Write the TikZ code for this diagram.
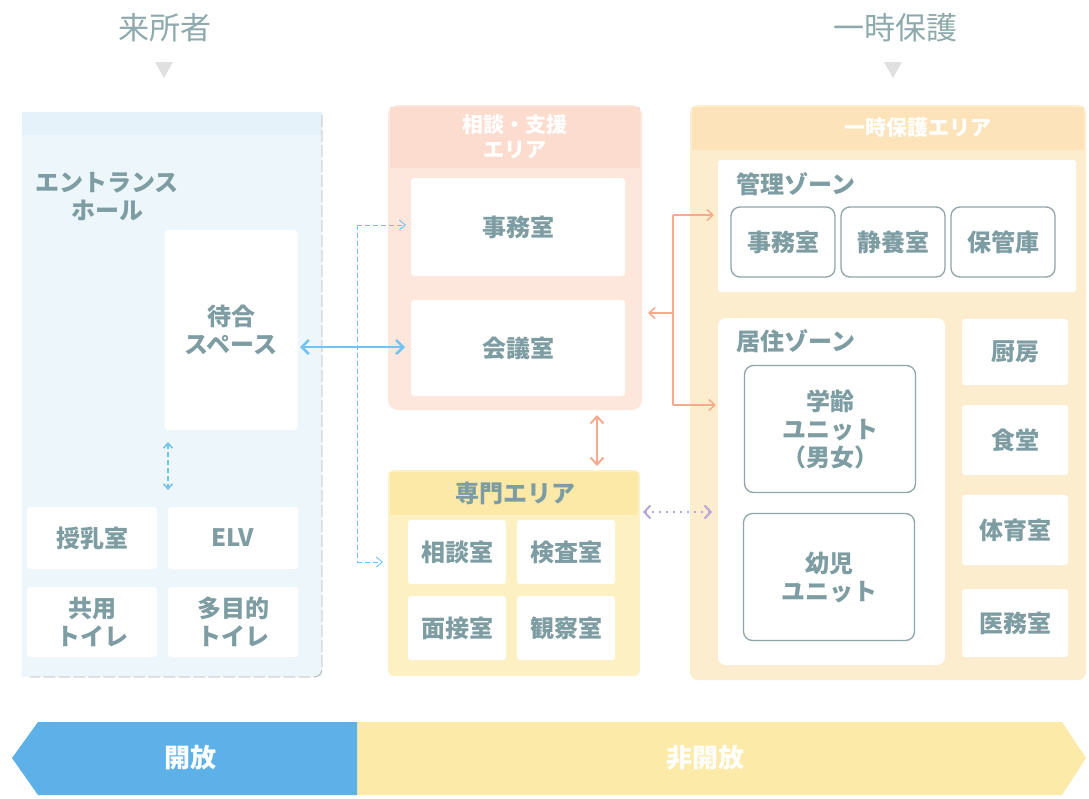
\documentclass[tikz,border=0pt]{standalone}
\usepackage{fontspec}
\newfontfamily\jp{Noto Sans CJK JP}
\usetikzlibrary{arrows.meta}
\definecolor{txt}{HTML}{7E9DA3}
\definecolor{ttl}{HTML}{8FAAAD}
\definecolor{lblue}{HTML}{EDF6FB}
\definecolor{lbluehd}{HTML}{E5F2FA}
\definecolor{pinkbg}{HTML}{FDE6DC}
\definecolor{pinkhd}{HTML}{FCDCCF}
\definecolor{yelbg}{HTML}{FDF1C4}
\definecolor{yelhd}{HTML}{FCE9A8}
\definecolor{orbg}{HTML}{FDEDCF}
\definecolor{orhd}{HTML}{FCE3BA}
\definecolor{barblue}{HTML}{5DB1E8}
\definecolor{baryel}{HTML}{FCEAA8}
\definecolor{arrblue}{HTML}{72C3EF}
\definecolor{arror}{HTML}{F7A98E}
\definecolor{arrpur}{HTML}{B9A6D9}
\definecolor{unitline}{HTML}{8FA5A8}
\tikzset{
  lbl/.style={font=\jp\bfseries\fontsize{24}{28}\selectfont, text=txt, align=center},
  cell/.style={fill=white, draw=none, rounded corners=3pt},
  unit/.style={fill=white, draw=unitline, line width=1.3pt, rounded corners=9pt},
  ttlstyle/.style={font=\jp\fontsize{31}{34}\selectfont, text=ttl},
  hdr/.style={font=\jp\bfseries\fontsize{21}{25}\selectfont, text=white, align=center},
  blarrow/.style={draw=arrblue, line width=0.9pt, dashed, dash pattern=on 5pt off 3pt},
  orarrow/.style={draw=arror, line width=1.5pt},
}
\begin{document}
\begin{tikzpicture}[x=1pt,y=-1pt]
\path[use as bounding box, fill=white] (0,0) rectangle (1089,798);

% titles
\node[ttlstyle] (t1) at (165,28) {来所者};
\node[ttlstyle] (t2) at (895,28) {一時保護};
\fill[black!12] (155,62) -- (173,62) -- (164,78) -- cycle;
\fill[black!12] (884,62) -- (902,62) -- (893,78) -- cycle;

% left panel
\fill[lblue] (22,112) rectangle (322,677);
\fill[lbluehd] (22,112) rectangle (322,135);
\draw[black!30, line width=0.8pt, dash pattern=on 12pt off 3pt, rounded corners=8pt] (322,115) -- (322,677) -- (30,677);
\node[lbl, align=center] (ent) at (107,197) {エントランス\\ホール};
\node[cell, minimum width=133pt, minimum height=200pt] (wait) at (231,330) {};
\node[lbl] at (wait) {待合\\スペース};
\node[cell, minimum width=130pt, minimum height=62pt] (c1) at (92,538) {};
\node[lbl] at (c1) {授乳室};
\node[cell, minimum width=130pt, minimum height=62pt] (c2) at (233,538) {};
\node[lbl] at (c2) {ELV};
\node[cell, minimum width=130pt, minimum height=70pt] (c3) at (92,622) {};
\node[lbl] at (c3) {共用\\トイレ};
\node[cell, minimum width=130pt, minimum height=70pt] (c4) at (233,622) {};
\node[lbl] at (c4) {多目的\\トイレ};
\coordinate (va) at (168,442);
\coordinate (vb) at (168,490);
\draw[blarrow, line width=1.6pt, {Straight Barb[length=5pt,width=9pt]}-{Straight Barb[length=5pt,width=9pt]}] (va) -- (vb);

% middle pink panel
\fill[pinkbg, rounded corners=10pt] (388,105) rectangle (642,410);
\fill[pinkhd] (390,107) rectangle (640,168);
\node[hdr] (mh) at (515,137) {相談・支援\\エリア};
\node[cell, minimum width=214pt, minimum height=98pt] (jim1) at (518,227) {};
\node[lbl] at (jim1) {事務室};
\node[cell, minimum width=214pt, minimum height=96pt] (kai) at (518,348) {};
\node[lbl] at (kai) {会議室};

% middle yellow panel
\fill[yelbg, rounded corners=6pt] (388,470) rectangle (640,676);
\fill[yelhd] (390,472) rectangle (638,515);
\node[lbl] (sen) at (515,493) {専門エリア};
\node[cell, minimum width=98pt, minimum height=64pt] (s1) at (457,552) {};
\node[lbl] at (s1) {相談室};
\node[cell, minimum width=98pt, minimum height=64pt] (s2) at (566,552) {};
\node[lbl] at (s2) {検査室};
\node[cell, minimum width=98pt, minimum height=64pt] (s3) at (457,628) {};
\node[lbl] at (s3) {面接室};
\node[cell, minimum width=98pt, minimum height=64pt] (s4) at (566,628) {};
\node[lbl] at (s4) {観察室};

% right panel
\fill[orbg, rounded corners=8pt] (690,105) rectangle (1086,680);
\fill[orhd] (692,107) rectangle (1084,150);
\node[hdr] (rh) at (918,128) {一時保護エリア};
\fill[white, rounded corners=3pt] (718,160) rectangle (1076,292);
\node[lbl, anchor=west] (kanri) at (733,184) {管理ゾーン};
\node[unit, minimum width=104pt, minimum height=70pt] (k1) at (783,242) {};
\node[lbl] at (k1) {事務室};
\node[unit, minimum width=104pt, minimum height=70pt] (k2) at (893,242) {};
\node[lbl] at (k2) {静養室};
\node[unit, minimum width=104pt, minimum height=70pt] (k3) at (1003,242) {};
\node[lbl] at (k3) {保管庫};
\fill[white, rounded corners=8pt] (718,318) rectangle (945,665);
\node[lbl, anchor=west] (kyo) at (733,341) {居住ゾーン};
\node[unit, minimum width=171pt, minimum height=127pt] (u1) at (830,429) {};
\node[lbl, align=center] at (u1) {学齢\\ユニット\\（男女）};
\node[unit, minimum width=171pt, minimum height=127pt] (u2) at (829,577) {};
\node[lbl, align=center] at (u2) {幼児\\ユニット};
\node[cell, minimum width=106pt, minimum height=66pt] (r1) at (1015,352) {};
\node[lbl] at (r1) {厨房};
\node[cell, minimum width=106pt, minimum height=70pt] (r2) at (1015,440) {};
\node[lbl] at (r2) {食堂};
\node[cell, minimum width=106pt, minimum height=70pt] (r3) at (1015,530) {};
\node[lbl] at (r3) {体育室};
\node[cell, minimum width=106pt, minimum height=68pt] (r4) at (1015,623) {};
\node[lbl] at (r4) {医務室};

% blue connectors
\coordinate (wr) at (300,347);
\coordinate (kl) at (405,347);
\draw[draw=arrblue, line width=2.6pt, {Straight Barb[length=7pt,width=14pt]}-{Straight Barb[length=7pt,width=14pt]}] (wr) -- (kl);
\coordinate (bt) at (357,225);
\coordinate (bb) at (357,562);
\coordinate (jt) at (406,225);
\coordinate (st) at (383,562);
\draw[blarrow, -{Straight Barb[length=6pt,width=10pt]}] (bt) -- (jt);
\draw[blarrow, -{Straight Barb[length=6pt,width=10pt]}] (bb) -- (st);
\draw[blarrow] (bt) -- (bb);

% orange connectors
\coordinate (ot) at (673,215);
\coordinate (ob) at (673,405);
\coordinate (om) at (673,313);
\draw[orarrow] (ot) -- (ob);
\draw[orarrow, -{Straight Barb[length=6pt,width=11pt]}] (ot) -- (714,215);
\draw[orarrow, -{Straight Barb[length=6pt,width=11pt]}] (om) -- (648,313);
\draw[orarrow, -{Straight Barb[length=6pt,width=11pt]}] (ob) -- (716,405);
\coordinate (pa) at (597,415);
\coordinate (pb) at (597,466);
\draw[orarrow, line width=2pt, {Straight Barb[length=7pt,width=13pt]}-{Straight Barb[length=7pt,width=13pt]}] (pa) -- (pb);

% purple dotted
\coordinate (qa) at (643,512);
\coordinate (qb) at (712,512);
\draw[draw=arrpur, line width=2pt, dash pattern=on 2pt off 5pt, {Straight Barb[length=6pt,width=13pt]}-{Straight Barb[length=6pt,width=13pt]}] (qa) -- (qb);

% bottom bar
\fill[baryel] (357,722) -- (1062,722) -- (1086,758) -- (1062,795) -- (357,795) -- cycle;
\fill[barblue] (357,722) -- (38,722) -- (12,758) -- (38,795) -- (357,795) -- cycle;
\node[font=\jp\bfseries\fontsize{26}{28}\selectfont, text=white] (open) at (190,758) {開放};
\node[font=\jp\bfseries\fontsize{26}{28}\selectfont, text=white] (closed) at (705,758) {非開放};
\end{tikzpicture}
\end{document}
